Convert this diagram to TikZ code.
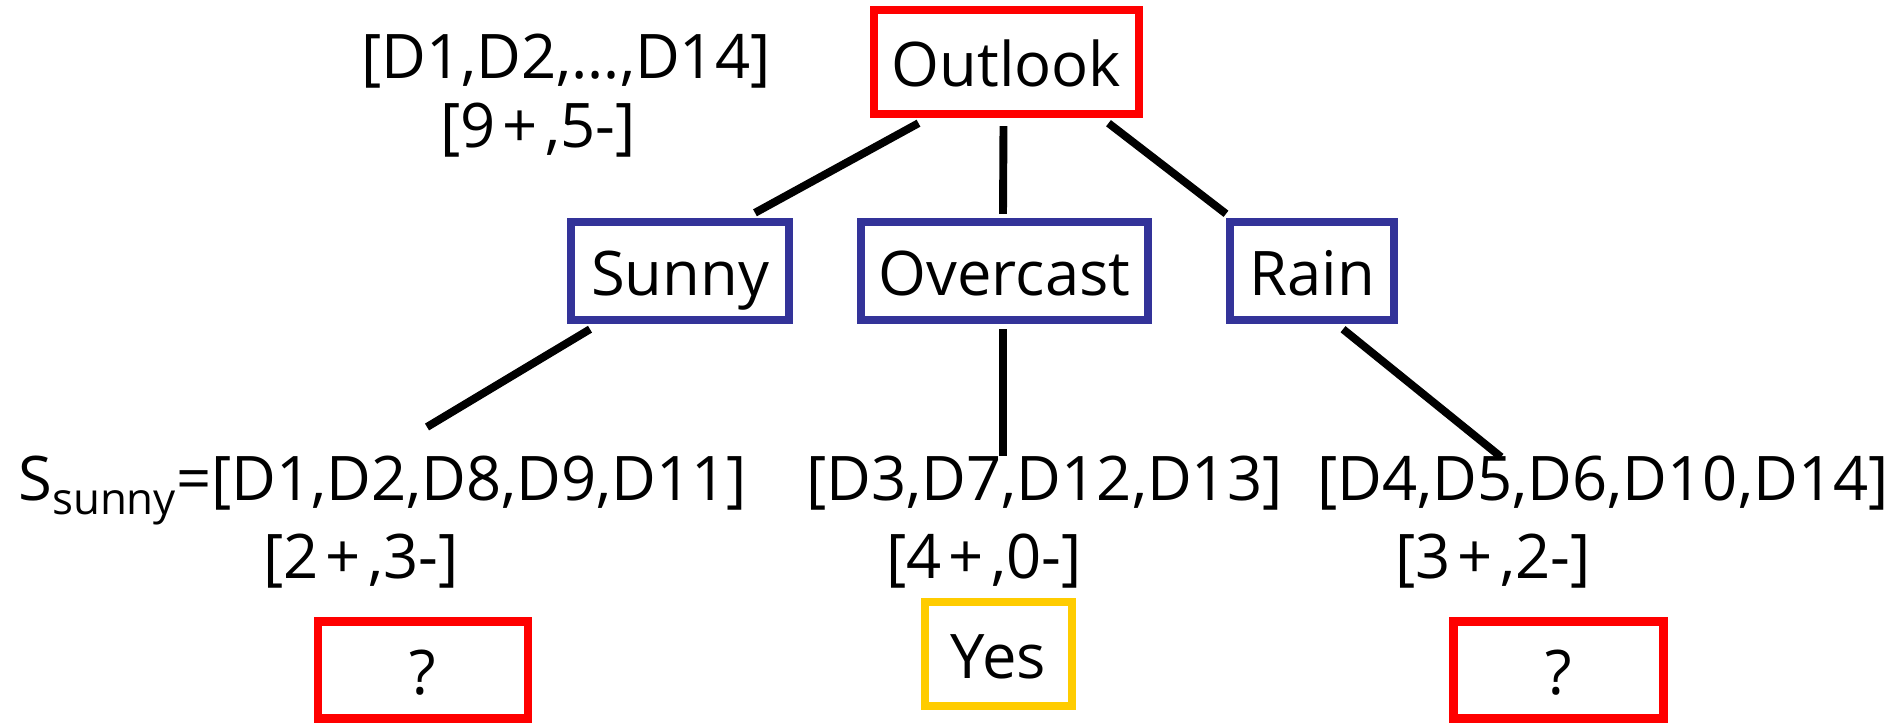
\documentclass[tikz,border=0pt]{standalone}
\usepackage{fontspec}
\setmainfont{Open Sans}
\usetikzlibrary{calc}
\definecolor{leafred}{RGB}{255,0,0}
\definecolor{valblue}{RGB}{51,51,153}
\definecolor{leafgold}{RGB}{255,204,0}
% a plus sign with a little air on both sides
\newcommand{\splus}{\kern0.12em+\kern0.12em}
\begin{document}
\begin{tikzpicture}[x=0.02cm,y=-0.02cm,
  every node/.style={font=\fontsize{35}{42}\selectfont, inner sep=0pt},
  box/.style={draw, line width=4.8pt, fill=white, minimum height=#1,
    text height=1.1cm, text depth=0.1cm},
  box/.default=2cm,
  attr/.style={box=2.08cm, draw=leafred},
  val/.style={box=1.96cm, draw=valblue},
  leaf/.style={box=1.94cm, draw=leafred},
  yesbox/.style={box=2.08cm, draw=leafgold},
  edge/.style={line width=4.5pt},
  lbl/.style={anchor=base}]
\useasboundingbox (0,0) rectangle (1901,723);

% root test and its sample set
\node[attr, minimum width=5.3cm] (outlook) at (1006.5,62) {Outlook};
\node[lbl] (rootset) at (566,79) {[D1,D2,…,D14]};
\node[lbl] (rootcnt) at (538,148) {[9\splus,5-]};

% attribute values
\node[val, minimum width=4.36cm] (sunny) at (680,271) {Sunny};
\node[val, minimum width=5.74cm] (overcast) at (1004.5,271) {Overcast};
\node[val, minimum width=3.28cm] (rain) at (1312,271) {Rain};

% branches from the root
\draw[edge] ($(outlook.south)+(-88,5)$) -- ($(sunny.north)+(75,-5)$);
\draw[edge] ($(outlook.south)+(-3,8)$) -- ($(overcast.north)+(-1.5,-4)$);
\draw[edge] ($(outlook.south)+(102,5)$) -- ($(rain.north)+(-86,-4)$);

% partitions
\node[lbl, anchor=base west] (ssunny) at (18,500)
  {S\raisebox{-0.23em}{\fontsize{25}{30}\selectfont sunny}=[D1,D2,D8,D9,D11]};
\node[lbl] (sovercast) at (1044.5,500) {[D3,D7,D12,D13]};
\node[lbl] (srain) at (1603,500) {[D4,D5,D6,D10,D14]};
\node[lbl] (csunny) at (361,578) {[2\splus,3-]};
\node[lbl] (covercast) at (984,578) {[4\splus,0-]};
\node[lbl] (crain) at (1493,578) {[3\splus,2-]};

% branches to the partitions
\coordinate (endsunny) at (427,427);
\coordinate (endovercast) at (1003,456);
\coordinate (endrain) at (1501,457);
\draw[edge] ($(sunny.south)+(-90,5)$) -- (endsunny);
\draw[edge] ($(overcast.south)+(-1.5,5)$) -- (endovercast);
\draw[edge] ($(rain.south)+(31,5)$) -- (endrain);

% leaves
\node[leaf, minimum width=4.2cm] (leafsunny) at (423,670) {?};
\node[yesbox, minimum width=2.94cm] (leafovercast) at (998.5,654) {Yes};
\node[leaf, minimum width=4.2cm] (leafrain) at (1558.5,670) {?};
\end{tikzpicture}
\end{document}
